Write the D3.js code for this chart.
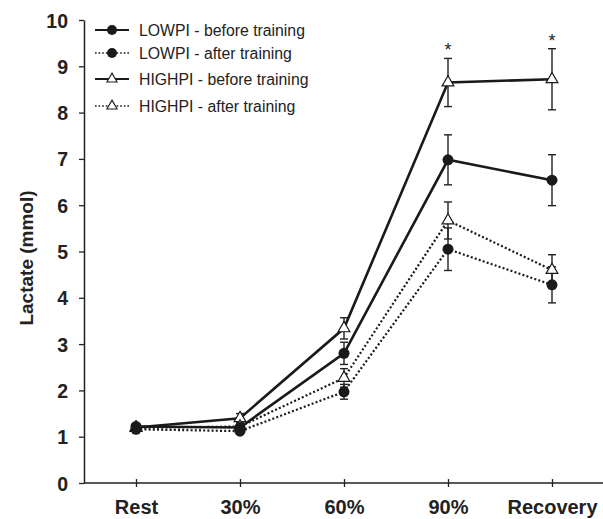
<!DOCTYPE html>
<html><head><meta charset="utf-8">
<script src="https://cdn.jsdelivr.net/npm/d3@7"></script>
<style>body{margin:0;background:#fff}svg{display:block}text{font-family:"Liberation Sans",Arial,Helvetica,sans-serif}</style>
</head><body><svg id="c" width="603" height="519"></svg>
<script>
const categories = ["Rest","30%","60%","90%","Recovery"];
const yTicks = [0,1,2,3,4,5,6,7,8,9,10];
const lowBefore     = [1.22, 1.20, 2.80, 6.98, 6.54];
const lowBeforeErr  = [0.05, 0.05, 0.24, 0.54, 0.55];
const lowAfter      = [1.16, 1.12, 1.97, 5.05, 4.28];
const lowAfterErr   = [0.05, 0.05, 0.16, 0.46, 0.39];
const highBefore    = [1.20, 1.40, 3.34, 8.65, 8.72];
const highBeforeErr = [0.05, 0.10, 0.23, 0.52, 0.66];
const highAfter     = [1.19, 1.22, 2.27, 5.67, 4.60];
const highAfterErr  = [0.05, 0.05, 0.20, 0.40, 0.33];
const seriesNames = ["LOWPI - before training","LOWPI - after training","HIGHPI - before training","HIGHPI - after training"];
const starCats = ["90%","Recovery"];

const series = [
  {name:seriesNames[0], v:lowBefore, e:lowBeforeErr, dotted:false, marker:"circle"},
  {name:seriesNames[1], v:lowAfter, e:lowAfterErr, dotted:true, marker:"circle"},
  {name:seriesNames[2], v:highBefore, e:highBeforeErr, dotted:false, marker:"triangle"},
  {name:seriesNames[3], v:highAfter, e:highAfterErr, dotted:true, marker:"triangle"}
];

const svg = d3.select("#c");
const x = d3.scalePoint().domain(categories).range([84, 604]).padding(0.5);
const y = d3.scaleLinear().domain([0,10]).range([483, 20]);

// y axis
const ya = svg.append("g").attr("transform","translate(84,0)")
  .call(d3.axisLeft(y).tickValues(yTicks).tickSize(5).tickPadding(11).tickSizeOuter(0));
ya.select(".domain").attr("stroke","#222").attr("stroke-width",1.5);
ya.selectAll(".tick line").attr("stroke","#222").attr("stroke-width",1.3);
ya.selectAll(".tick text").attr("font-size",19.5).attr("font-weight","bold").attr("fill","#222").attr("dy","0.36em");

// x axis
const xa = svg.append("g").attr("transform","translate(0,483)")
  .call(d3.axisBottom(x).tickSize(4).tickPadding(13).tickSizeOuter(0));
xa.select(".domain").attr("d","M84,0H603").attr("stroke","#222").attr("stroke-width",1.5);
xa.selectAll(".tick line").attr("y1",-4).attr("stroke","#222").attr("stroke-width",1.3);
xa.selectAll(".tick text").attr("font-size",20).attr("font-weight","bold").attr("fill","#222");

// y title
svg.append("text").attr("transform","translate(33,258) rotate(-90)")
  .attr("text-anchor","middle").attr("font-size",19).attr("font-weight","bold").attr("fill","#222")
  .text("Lactate (mmol)");

const line = d3.line().x((d,i)=>x(categories[i])).y(d=>y(d));
const tri = d3.symbol().type(d3.symbolTriangle).size(60);

// lines
series.forEach(s=>{
  svg.append("path").attr("d",line(s.v)).attr("fill","none").attr("stroke","#1a1a1a")
    .attr("stroke-width", s.dotted?2.2:2.6)
    .attr("stroke-dasharray", s.dotted?"2,2.2":null);
});
// error bars
series.forEach(s=>{
  const g = svg.append("g").attr("stroke","#222").attr("stroke-width",1.4);
  s.v.forEach((v,i)=>{
    const cx = x(categories[i]), t = y(v+s.e[i]), b = y(v-s.e[i]);
    g.append("line").attr("x1",cx).attr("x2",cx).attr("y1",t).attr("y2",b);
    g.append("line").attr("x1",cx-4).attr("x2",cx+4).attr("y1",t).attr("y2",t);
    g.append("line").attr("x1",cx-4).attr("x2",cx+4).attr("y1",b).attr("y2",b);
  });
});
// markers: triangles first, circles on top
series.filter(s=>s.marker==="triangle").forEach(s=>{
  s.v.forEach((v,i)=>{
    svg.append("path").attr("d",tri()).attr("transform",`translate(${x(categories[i])},${y(v)})`)
      .attr("fill","#fff").attr("stroke","#1a1a1a").attr("stroke-width",1.2);
  });
});
series.filter(s=>s.marker==="circle").forEach(s=>{
  s.v.forEach((v,i)=>{
    svg.append("circle").attr("cx",x(categories[i])).attr("cy",y(v)).attr("r",5.5).attr("fill","#1a1a1a");
  });
});
// asterisks
starCats.forEach(c=>{
  const i = categories.indexOf(c);
  const top = y(highBefore[i]+highBeforeErr[i]);
  svg.append("text").attr("x",x(c)).attr("y",top-2).attr("text-anchor","middle")
    .attr("font-size",18).attr("fill","#222").text("*");
});

// legend
const legY = [30, 53, 79, 106];
series.forEach((s,k)=>{
  const ly = legY[k];
  svg.append("line").attr("x1",95).attr("x2",129).attr("y1",ly).attr("y2",ly)
    .attr("stroke","#1a1a1a").attr("stroke-width", s.dotted?1.6:2)
    .attr("stroke-dasharray", s.dotted?"1.6,2":null);
  if (s.marker==="circle") svg.append("circle").attr("cx",112).attr("cy",ly).attr("r",5).attr("fill","#1a1a1a");
  else svg.append("path").attr("d",d3.symbol().type(d3.symbolTriangle).size(45)()).attr("transform",`translate(112,${ly})`).attr("fill","#fff").attr("stroke","#1a1a1a").attr("stroke-width",1.1);
  svg.append("text").attr("x",139).attr("y",ly).attr("dy","0.36em").attr("font-size",15.8).attr("fill","#222").text(s.name);
});
</script></body></html>
